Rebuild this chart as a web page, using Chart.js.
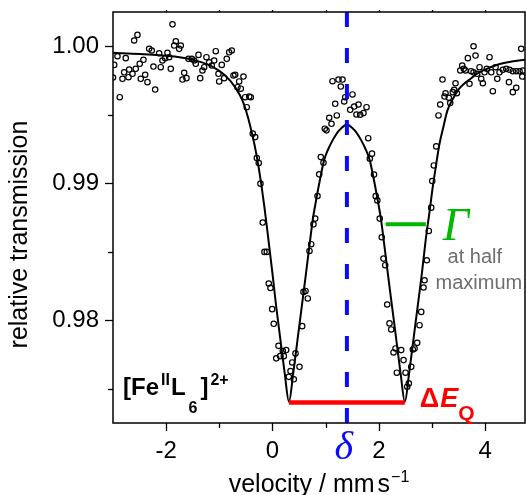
<!DOCTYPE html>
<html>
<head>
<meta charset="utf-8">
<script src="https://cdn.jsdelivr.net/npm/chart.js@4.4.1/dist/chart.umd.min.js"></script>
<style>
  html, body { margin: 0; padding: 0; background: #fff; }
  #wrap { width: 526px; height: 495px; position: relative; }
</style>
</head>
<body>
<div id="wrap"><canvas id="chart"></canvas></div>
<script>
const leftWing = [
    [-2.916,0.99927],[-2.978,0.99864],[-2.760,0.99913],[-3.000,0.99772],[-2.873,0.99628],[-2.790,0.99810],
    [-2.822,0.99762],[-2.696,0.99830],[-2.709,0.99774],[-2.634,0.99799],[-2.572,0.99835],[-2.602,1.00042],
    [-2.540,1.00083],[-2.478,0.99762],[-2.395,0.99792],[-2.352,0.99738],[-2.497,0.99872],[-2.427,0.99901],
    [-2.320,0.99981],[-2.271,0.99969],[-2.239,0.99852],[-2.207,0.99684],[-2.132,0.99949],[-2.102,0.99847],
    [-2.070,0.99896],[-2.019,0.99913],[-1.976,0.99952],[-1.944,0.99920],[-1.913,0.99835],[-1.881,1.00160],
    [-1.819,1.00036],[-1.849,1.00005],[-1.755,0.99981],[-1.725,1.00005],[-1.661,0.99806],[-1.693,0.99757],
    [-1.618,0.99767],[-1.580,0.99908],[-1.518,0.99908],[-1.473,0.99896],[-1.443,0.99872],[-1.392,0.99937],
    [-1.360,0.99767],[-1.317,0.99823],[-1.285,0.99847],[-1.242,0.99920],[-1.191,0.99883],[-1.142,0.99859],
    [-1.097,0.99896],[-1.067,0.99964],[-1.016,0.99799],[-1.003,0.99743],[-0.954,0.99864],[-0.909,0.99767],
    [-0.860,0.99908],[-0.815,0.99956],[-0.766,0.99969],[-0.734,0.99786],[-0.702,0.99792],[-0.627,0.99743],
    [-0.659,0.99701],[-0.596,0.99690],[-0.546,0.99779],[-0.514,0.99628],[-0.438,0.99633],[-0.408,0.99628],
    [-0.484,0.99555]
];
const leftDip = [
    [-0.371,0.99362],[-0.325,0.99337],[-0.295,0.99184],[-0.258,0.99147],[-0.226,0.98997],[-0.183,0.98713],
    [-0.151,0.98499],[-0.107,0.98499],[-0.070,0.98268],[-0.038,0.98236],[-0.006,0.98081],[0.024,0.97974],
    [0.113,0.97813],[0.070,0.97722],[0.145,0.97738],[0.194,0.97775],[0.258,0.97782],[0.213,0.97738],
    [0.371,0.97692],[0.433,0.97758],[0.508,0.97660],[0.339,0.97629],[0.307,0.97587],[0.401,0.97569],
    [0.728,0.98555],[0.696,0.98506],[0.621,0.98214],[0.583,0.98207],[0.664,0.98159],[0.559,0.97957]
];
const centre = [
    [0.771,0.98700],[0.803,0.98742],[0.847,0.98907],[0.879,0.99065],[0.909,0.99191],[0.959,0.99150],
    [0.984,0.99398],[1.016,0.99386],[1.067,0.99478],[1.110,0.99434],[1.210,0.99495],[1.180,0.99580],
    [1.129,0.99745],[1.242,0.99757],[1.317,0.99757],[1.285,0.99706],[1.368,0.99628],[1.349,0.99597],
    [1.505,0.99648],[1.462,0.99536],[1.537,0.99560],[1.618,0.99575],[1.769,0.99555],[1.580,0.99502],
    [1.650,0.99500],[1.712,0.99512],[1.801,0.99329],[1.872,0.99216],[1.831,0.99179],[1.910,0.99063],
    [1.942,0.98906],[1.972,0.98875],[2.017,0.98742],[2.055,0.98606]
];
const rightDip = [
    [2.088,0.98450],[2.120,0.98402],[2.158,0.98115],[2.201,0.97977],[2.233,0.97933],[2.314,0.97794],
    [2.277,0.97765],[2.421,0.97782],[2.465,0.97709],[2.339,0.97617],[2.502,0.97617],[2.903,0.98438],
    [2.860,0.98292],[2.841,0.98239],[2.798,0.98061],[2.766,0.97964],[2.722,0.97835],[2.672,0.97794],
    [2.640,0.97787],[2.610,0.97660],[2.564,0.97539],[2.534,0.97515],[2.941,0.98652],[2.986,0.98822],
    [3.005,0.99016],[3.035,0.99130],[3.080,0.99269]
];
const rightWing = [
    [3.123,0.99495],[3.155,0.99575],[3.198,0.99757],[3.255,0.99657],[3.236,0.99633],[3.317,0.99624],
    [3.343,0.99585],[3.392,0.99665],[3.443,0.99730],[3.468,0.99657],[3.418,0.99682],[3.532,0.99823],
    [3.569,0.99859],[3.599,0.99835],[3.631,0.99823],[3.675,0.99913],[3.706,0.99726],[3.738,0.99818],
    [3.782,1.00000],[3.819,0.99932],[3.782,0.99810],[3.851,0.99799],[3.895,0.99847],[3.927,0.99762],
    [3.957,0.99730],[3.989,0.99810],[4.032,0.99835],[4.083,0.99920],[4.115,0.99810],[4.145,0.99672],
    [4.196,0.99847],[4.228,0.99762],[4.271,0.99810],[4.333,0.99828],[4.397,0.99835],[4.459,0.99828],
    [4.521,0.99818],[4.585,0.99818],[4.647,0.99818],[4.709,0.99823],[4.448,0.99738],[4.521,0.99665],
    [4.585,0.99697],[4.679,0.99981],[4.698,0.99779]
];

// fitted doublet
const fitVelocity = [
    -3.00, -2.50, -2.00, -1.75, -1.45, -1.15, -0.90, -0.70, -0.56, -0.49, -0.42, -0.34, -0.27, -0.21,
    -0.15, -0.08, 0.00, 0.07, 0.15, 0.23, 0.31, 0.39, 0.47, 0.55, 0.63, 0.70, 0.76, 0.82, 0.90, 0.97,
    1.05, 1.13, 1.22, 1.29, 1.40, 1.51, 1.58, 1.67, 1.75, 1.83, 1.90, 1.98, 2.04, 2.10, 2.17, 2.25,
    2.33, 2.41, 2.49, 2.57, 2.65, 2.73, 2.81, 2.88, 2.95, 3.01, 3.08, 3.14, 3.22, 3.29, 3.40, 3.50,
    3.60, 3.70, 3.85, 4.00, 4.23, 4.50, 4.75
];
const fitTransmission = [
    0.99952, 0.99944, 0.99930, 0.99920, 0.99897, 0.99855, 0.99790, 0.99700, 0.99600, 0.99520, 0.99420, 0.99285, 0.99140, 0.98990,
    0.98820, 0.98600, 0.98340, 0.98100, 0.97855, 0.97612, 0.97405, 0.97612, 0.97855, 0.98098, 0.98341, 0.98560, 0.98740, 0.98875, 0.99040, 0.99167,
    0.99250, 0.99313, 0.99370, 0.99400, 0.99429, 0.99400, 0.99370, 0.99313, 0.99250, 0.99167, 0.99040, 0.98875, 0.98740, 0.98560, 0.98341, 0.98098,
    0.97855, 0.97612, 0.97405, 0.97612, 0.97855, 0.98098, 0.98341, 0.98580, 0.98780, 0.98960, 0.99140, 0.99285, 0.99420, 0.99530, 0.99620, 0.99685,
    0.99725, 0.99755, 0.99800, 0.99830, 0.99865, 0.99888, 0.99902
];

// axes
const xRange = [-3, 4.75];
const yRange = [0.9725, 1.0025];
const xMajorTicks = [-2, 0, 2, 4];
const xMinorTicks = [-1, 1, 3];
const yMajorTicks = [0.98, 0.99, 1.00];
const yMinorTicks = [0.975, 0.985, 0.995];

// markers: isomer shift, quadrupole splitting, line width
const isomerShift = 1.40;
const splittingEnds = [0.31, 2.49];
const splittingLevel = 0.9740;
const widthEnds = [2.13, 2.885];
const widthLevel = 0.9870;

const SANS = '"Liberation Sans", Arial, sans-serif';
const SERIF = '"Liberation Serif", "Times New Roman", serif';
const BLUE = '#0a0aff';
const RED = '#ff0000';
const GREEN = '#00b800';

var points = leftWing.concat(leftDip, centre, rightDip, rightWing).map(function(p) {
    return {x: p[0], y: p[1]};
});
var fit = fitVelocity.map(function(v, i) {
    return {x: v, y: fitTransmission[i]};
});

// frame, tick marks and all the labels are drawn by hand
const decorations = {
    id: 'decorations',
    afterDatasetsDraw(chart) {
        const ctx = chart.ctx;
        const a = chart.chartArea;
        const xs = chart.scales.x, ys = chart.scales.y;
        ctx.save();

        ctx.strokeStyle = '#000';
        ctx.lineWidth = 1.5;
        ctx.strokeRect(a.left, a.top, a.right - a.left, a.bottom - a.top);

        function xTick(v, len) {
            var px = Math.round(xs.getPixelForValue(v)) + 0.5;
            ctx.beginPath();
            ctx.moveTo(px, a.bottom); ctx.lineTo(px, a.bottom + len);
            ctx.moveTo(px, a.top); ctx.lineTo(px, a.top - 2);
            ctx.stroke();
        }
        function yTick(v, len) {
            var py = Math.round(ys.getPixelForValue(v)) + 0.5;
            ctx.beginPath();
            ctx.moveTo(a.left, py); ctx.lineTo(a.left - len, py);
            ctx.stroke();
        }
        ctx.lineWidth = 1.3;
        xMajorTicks.forEach(function(v) { xTick(v, 8); });
        xMinorTicks.forEach(function(v) { xTick(v, 5); });
        yMajorTicks.forEach(function(v) { yTick(v, 8); });
        yMinorTicks.forEach(function(v) { yTick(v, 5); });

        ctx.fillStyle = '#000';
        ctx.textBaseline = 'alphabetic';

        // y title
        ctx.save();
        ctx.translate(27, 234.5);
        ctx.rotate(-Math.PI / 2);
        ctx.textAlign = 'center';
        ctx.font = '25px ' + SANS;
        ctx.fillText('relative transmission', 0, 0);
        ctx.restore();

        // x title with superscript
        ctx.textAlign = 'left';
        ctx.font = '25px ' + SANS;
        var t1 = 'velocity / mm', t2 = 's';
        var w1 = ctx.measureText(t1).width, w2 = ctx.measureText(t2).width;
        ctx.font = '16px ' + SANS;
        var w3 = ctx.measureText('\u22121').width;
        var tx = (a.left + a.right) / 2 - (w1 + 3 + w2 + 1 + w3) / 2;
        ctx.font = '25px ' + SANS;
        ctx.fillText(t1, tx, 491.5);
        ctx.fillText(t2, tx + w1 + 3, 491.5);
        ctx.font = '16px ' + SANS;
        ctx.fillText('\u22121', tx + w1 + 3 + w2 + 1, 481.5);

        // complex label
        var fx = a.left + 10, fy = a.bottom - 28;
        [['[Fe', 0, 24, 2], ['II', -10, 16, 1], ['L', 0, 24, 3], ['6', 18, 16, 3], [']', 0, 24, 2], ['2+', -10, 16, 0]]
            .forEach(function(p) {
                ctx.font = 'bold ' + p[2] + 'px ' + SANS;
                ctx.fillText(p[0], fx, fy + p[1]);
                fx += ctx.measureText(p[0]).width + p[3];
            });

        // Gamma and "at half maximum"
        var gx = xs.getPixelForValue(widthEnds[1]);
        var gy = ys.getPixelForValue(widthLevel);
        ctx.fillStyle = GREEN;
        ctx.font = 'italic 46px ' + SERIF;
        ctx.fillText('\u0393', gx + 17, gy + 16);
        ctx.fillStyle = '#6e6e6e';
        ctx.font = '20px ' + SANS;
        ctx.textAlign = 'center';
        ctx.fillText('at half', gx + 49, gy + 39);
        ctx.fillText('maximum', gx + 53, gy + 64.5);

        // Delta E_Q
        ctx.textAlign = 'left';
        ctx.fillStyle = RED;
        var ex = xs.getPixelForValue(splittingEnds[1]) + 15;
        var ey = ys.getPixelForValue(splittingLevel) + 5;
        ctx.font = 'bold 27px ' + SANS;
        ctx.fillText('\u0394', ex, ey);
        ex += ctx.measureText('\u0394').width + 1;
        ctx.font = 'italic bold 27px ' + SANS;
        ctx.fillText('E', ex, ey);
        ex += ctx.measureText('E').width;
        ctx.font = 'bold 21px ' + SANS;
        ctx.fillText('Q', ex, ey + 13);

        // delta below the axis
        ctx.fillStyle = BLUE;
        ctx.textAlign = 'center';
        ctx.font = 'italic 40px ' + SERIF;
        ctx.fillText('\u03B4', xs.getPixelForValue(isomerShift) - 3, a.bottom + 36);

        ctx.restore();
    }
};

const ctx = document.getElementById('chart');

new Chart(ctx, {
    type: 'scatter',
    data: {
        datasets: [
            {
                label: 'line width',
                data: [{x: widthEnds[0], y: widthLevel}, {x: widthEnds[1], y: widthLevel}],
                showLine: true, borderColor: GREEN, borderWidth: 4, pointRadius: 0
            },
            {
                label: 'quadrupole splitting',
                data: [{x: splittingEnds[0], y: splittingLevel}, {x: splittingEnds[1], y: splittingLevel}],
                showLine: true, borderColor: RED, borderWidth: 4.5, pointRadius: 0
            },
            {
                label: 'isomer shift',
                data: [{x: isomerShift, y: yRange[1]}, {x: isomerShift, y: yRange[0]}],
                showLine: true, borderColor: BLUE, borderWidth: 4, borderDash: [15, 21], pointRadius: 0
            },
            {
                label: 'fit',
                data: fit,
                showLine: true, borderColor: '#000', borderWidth: 2, pointRadius: 0,
                cubicInterpolationMode: 'monotone'
            },
            {
                label: 'data',
                data: points,
                showLine: false, pointRadius: 2.7, borderWidth: 1.2,
                borderColor: '#000', backgroundColor: 'rgba(255,255,255,0)'
            }
        ]
    },
    options: {
        responsive: true,
        maintainAspectRatio: false,
        animation: false,
        devicePixelRatio: 1,
        events: [],
        layout: {autoPadding: false, padding: {top: 12, right: 1, left: 0, bottom: 0}},
        plugins: {
            legend: {display: false},
            tooltip: {enabled: false}
        },
        scales: {
            x: {
                type: 'linear',
                min: xRange[0],
                max: xRange[1],
                afterBuildTicks: function(s) { s.ticks = xMajorTicks.map(function(v) { return {value: v}; }); },
                afterFit: function(s) { s.height = 72; s.paddingLeft = 0; s.paddingRight = 0; },
                grid: {display: false, drawTicks: false, tickLength: 0},
                border: {display: false},
                ticks: {
                    color: '#000',
                    font: {family: SANS, size: 24},
                    padding: 14,
                    maxRotation: 0,
                    autoSkip: false,
                    callback: function(v) { return String(v); }
                }
            },
            y: {
                type: 'linear',
                min: yRange[0],
                max: yRange[1],
                afterBuildTicks: function(s) { s.ticks = yMajorTicks.map(function(v) { return {value: v}; }); },
                afterFit: function(s) { s.width = 113; s.paddingTop = 0; s.paddingBottom = 0; },
                grid: {display: false, drawTicks: false, tickLength: 0},
                border: {display: false},
                ticks: {
                    color: '#000',
                    font: {family: SANS, size: 24},
                    padding: 14,
                    autoSkip: false,
                    callback: function(v) { return v.toFixed(2); }
                }
            }
        }
    },
    plugins: [decorations]
});
</script>
</body>
</html>
